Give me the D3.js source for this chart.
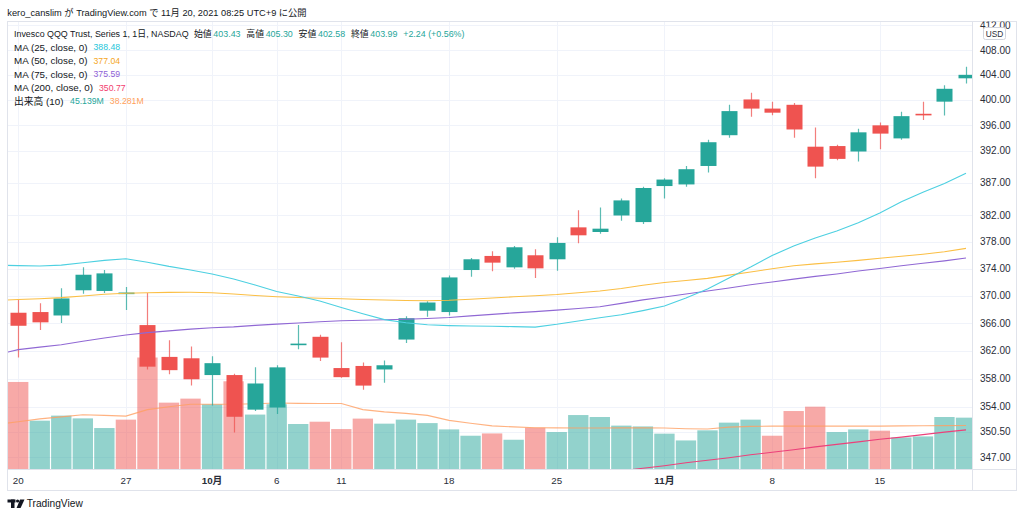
<!DOCTYPE html>
<html><head><meta charset="utf-8">
<script src="https://cdn.jsdelivr.net/npm/d3@7"></script>
<style>
html,body{margin:0;padding:0;background:#fff;}
svg{display:block;font-family:"Liberation Sans",Arial,"Noto Sans CJK JP",sans-serif;}
</style></head><body>
<svg id="c" width="1024" height="518"></svg>
<script>
// ---------------- data ----------------
const dates = ["2021-09-20","2021-09-21","2021-09-22","2021-09-23","2021-09-24",
"2021-09-27","2021-09-28","2021-09-29","2021-09-30","2021-10-01",
"2021-10-04","2021-10-05","2021-10-06","2021-10-07","2021-10-08",
"2021-10-11","2021-10-12","2021-10-13","2021-10-14","2021-10-15",
"2021-10-18","2021-10-19","2021-10-20","2021-10-21","2021-10-22",
"2021-10-25","2021-10-26","2021-10-27","2021-10-28","2021-10-29",
"2021-11-01","2021-11-02","2021-11-03","2021-11-04","2021-11-05",
"2021-11-08","2021-11-09","2021-11-10","2021-11-11","2021-11-12",
"2021-11-15","2021-11-16","2021-11-17","2021-11-18","2021-11-19"];
const open  = [367.5,367.6,367.1,370.8,370.7,370.3,365.7,361.1,360.9,358.5,358.5,353.6,353.9,362.8,364.0,359.5,359.8,359.3,363.6,367.8,367.6,373.8,375.9,374.2,376.0,375.4,380.2,379.5,382.0,381.0,386.5,386.75,389.6,394.4,400.05,398.6,399.2,392.6,392.7,391.85,395.95,393.9,397.7,399.7,403.43];
const high  = [369.4,368.9,371.1,374.2,373.8,371.3,370.4,363.5,362.6,361.2,358.7,359.6,359.9,365.7,364.3,363.2,360.3,360.6,367.0,369.2,373.0,375.6,376.6,377.4,376.9,378.7,382.8,383.2,384.6,386.4,387.7,389.6,393.7,399.2,401.1,399.7,399.5,395.6,392.9,395.4,396.4,398.1,399.7,402.3,405.30];
const low   = [361.0,365.0,366.0,370.3,370.4,367.9,359.3,358.6,357.0,354.2,350.4,353.4,353.0,362.2,360.5,358.1,356.4,357.4,363.1,366.9,367.1,372.8,373.6,374.0,372.6,373.7,377.8,379.25,381.2,380.7,384.6,386.4,388.6,394.0,397.3,397.55,394.0,387.7,390.5,390.3,392.2,393.7,396.8,397.5,402.58];
const close = [365.6,366.1,369.6,373.1,373.3,370.4,359.7,359.2,357.9,360.2,352.6,357.3,359.6,363.0,361.0,358.2,357.0,359.9,366.7,369.0,372.7,375.4,374.9,377.2,374.05,377.85,379.0,380.0,384.3,386.2,387.5,389.1,393.3,398.2,398.6,397.95,395.3,389.5,390.7,394.85,394.65,397.4,397.6,401.75,403.99];
const prevClose = 370.0; // close of the session before the first bar
const volume = [76.2,42.5,46.9,44.5,36.1,43.4,97.5,58.2,61.7,56.8,76.8,47.8,56.8,39.6,41.6,35.2,44.3,39.9,43.4,40.4,34.9,29.4,31.4,25.9,36.4,32.6,47.4,45.7,38.2,37.5,31.2,25.3,34.1,40.8,43.4,29.4,50.9,54.7,32.6,34.9,33.8,27.9,28.8,45.7,45.139];

// moving averages: first value belongs to the session before the first bar (index -1)
const ma25 = [374.53,374.46,374.39,374.53,374.89,375.24,375.49,374.96,374.34,373.81,373.22,372.47,371.58,370.62,369.96,369.21,368.28,367.36,366.50,366.03,365.74,365.62,365.56,365.52,365.47,365.41,365.81,366.30,366.77,367.21,367.81,368.48,369.66,371.0,372.62,374.24,375.96,377.39,378.58,379.66,380.9,382.39,384.09,385.56,386.88,388.48];
const ma50 = [369.29,369.44,369.56,369.72,369.96,370.22,370.36,370.44,370.49,370.50,370.44,370.25,370.04,369.85,369.73,369.63,369.56,369.45,369.36,369.30,369.26,369.33,369.48,369.66,369.84,370.0,370.18,370.44,370.70,371.07,371.55,371.96,372.25,372.56,373.04,373.51,373.99,374.44,374.72,374.96,375.24,375.55,375.85,376.16,376.53,377.04];
const ma75 = [361.42,362.15,362.51,362.85,363.35,363.82,364.27,364.61,364.86,365.11,365.31,365.44,365.66,365.84,366.01,366.18,366.33,366.40,366.47,366.55,366.65,366.80,367.04,367.26,367.48,367.66,367.88,368.12,368.38,368.87,369.39,369.81,370.25,370.70,371.14,371.62,372.03,372.45,372.85,373.22,373.66,374.03,374.43,374.82,375.17,375.59];
const maStartIndex = -1;
// MA200 only visible from bar 27 onward
const ma200 = [344.7,345.1,345.45,345.8,346.2,346.55,346.9,347.3,347.65,348.0,348.4,348.75,349.1,349.45,349.75,350.1,350.45,350.77];
const ma200StartIndex = 27;
const volMa10 = [39.3,41.5,44.1,45.8,47.6,47.1,46.5,52.1,54.6,56.8,56.8,56.8,57.2,57.9,57.6,57.5,57.4,52.1,50.2,48.9,47.1,42.8,40.2,38.0,37.1,36.4,36.2,36.1,36.1,36.2,36.4,36.1,35.5,35.2,36.9,37.5,37.8,37.8,37.8,37.8,37.8,37.8,38.0,38.1,38.2,38.281];

const priceTicks = [412,408,404,400,396,392,387,382,378,374,370,366,362,358,354,350.5,347];
const dateTickDates  = ["2021-09-20","2021-09-27","2021-10-01","2021-10-06","2021-10-11","2021-10-18","2021-10-25","2021-11-01","2021-11-08","2021-11-15"];
const dateTickLabels = ["20","27","10月","6","11","18","25","11月","8","15"];
const dateTickIsMonth = [false,false,true,false,false,false,false,true,false,false];

const headerText = "kero_canslim が TradingView.com で 11月 20, 2021 08:25 UTC+9 に公開";
const symbolText = "Invesco QQQ Trust, Series 1, 1日, NASDAQ";
const maLabels = ["MA (25, close, 0)","MA (50, close, 0)","MA (75, close, 0)","MA (200, close, 0)"];
const volLabel = "出来高 (10)";

// ---------------- layout / style ----------------
const L = 7.5, R = 972.5, T = 21.5, B = 469.5, AXB = 490.5, FR = 1016.5;
const UP = "#26a69a", DOWN = "#ef5350";
const VUP = "rgba(38,166,154,0.5)", VDOWN = "rgba(239,83,80,0.5)";
const C25 = "#4dd0e1", C50 = "#fbbf45", C75 = "#9068d4", C200 = "#ec407a", CVMA = "#ff9f62";
const GRID = "#f0f3fa", BORDER = "#e0e3eb", TXT = "#131722";

const svg = d3.select("#c");
const x = d3.scaleLinear().domain([0, dates.length - 1]).range([18.2, 966]);
const y = d3.scaleLog().domain([347, 408]).range([457, 50]);
const yv = d3.scaleLinear().domain([0, d3.max(volume)]).range([B, B - 0.25 * (B - T)]);
const step = x(1) - x(0);

const defs = svg.append("defs");
defs.append("clipPath").attr("id", "pane").append("rect")
  .attr("x", L).attr("y", T).attr("width", R - L).attr("height", B - T);
defs.append("clipPath").attr("id", "axis").append("rect")
  .attr("x", R).attr("y", T).attr("width", FR - R).attr("height", B - T);

// header
svg.append("text").attr("x", 7.3).attr("y", 16).attr("font-size", 9.25)
  .attr("fill", TXT).text(headerText);

const pane = svg.append("g").attr("clip-path", "url(#pane)");

// grid
pane.selectAll("line.hg").data(priceTicks).join("line")
  .attr("x1", L).attr("x2", R)
  .attr("y1", d => Math.round(y(d)) + 0.5).attr("y2", d => Math.round(y(d)) + 0.5)
  .attr("stroke", GRID).attr("stroke-width", 1);
pane.selectAll("line.vg").data(dateTickDates).join("line")
  .attr("x1", d => Math.round(x(dates.indexOf(d))) + 0.5)
  .attr("x2", d => Math.round(x(dates.indexOf(d))) + 0.5)
  .attr("y1", T).attr("y2", B)
  .attr("stroke", GRID).attr("stroke-width", 1);

// volume bars
const vw = step - 1.2;
pane.append("g").selectAll("rect").data(volume).join("rect")
  .attr("x", (d, i) => x(i) - vw / 2)
  .attr("width", vw)
  .attr("y", d => yv(d))
  .attr("height", d => B - yv(d))
  .attr("fill", (d, i) => close[i] >= (i === 0 ? prevClose : close[i - 1]) ? VUP : VDOWN);

// volume MA
const lineV = d3.line().x((d, k) => x(k + maStartIndex)).y(d => yv(d));
pane.append("path").attr("d", lineV(volMa10)).attr("fill", "none")
  .attr("stroke", CVMA).attr("stroke-opacity", 0.8).attr("stroke-width", 1.1);

// candles
const bw = 16;
const cg = pane.append("g");
dates.forEach((d, i) => {
  const up = close[i] >= open[i];
  const col = up ? UP : DOWN;
  const cx = Math.round(x(i)) + 0.5;
  cg.append("line").attr("x1", cx).attr("x2", cx)
    .attr("y1", y(high[i])).attr("y2", y(low[i]))
    .attr("stroke", col).attr("stroke-opacity", 0.75).attr("stroke-width", 1.2);
  const yt = y(Math.max(open[i], close[i])), yb = y(Math.min(open[i], close[i]));
  const h = Math.max(1.6, yb - yt);
  cg.append("rect").attr("x", cx - bw / 2).attr("width", bw)
    .attr("y", (yt + yb) / 2 - h / 2).attr("height", h)
    .attr("fill", col);
});

// price MAs
const lineP = off => d3.line().x((d, k) => x(k + off)).y(d => y(d));
[[ma75, C75], [ma50, C50], [ma25, C25]].forEach(([arr, col]) => {
  pane.append("path").attr("d", lineP(maStartIndex)(arr)).attr("fill", "none")
    .attr("stroke", col).attr("stroke-width", 1.1);
});
pane.append("path").attr("d", lineP(ma200StartIndex)(ma200)).attr("fill", "none")
  .attr("stroke", C200).attr("stroke-width", 1.1);

// frame
svg.append("rect").attr("x", L).attr("y", T).attr("width", FR - L).attr("height", AXB - T)
  .attr("fill", "none").attr("stroke", BORDER);
svg.append("line").attr("x1", L).attr("x2", FR).attr("y1", B).attr("y2", B).attr("stroke", BORDER);
svg.append("line").attr("x1", R).attr("x2", R).attr("y1", T).attr("y2", AXB).attr("stroke", BORDER);

// price axis labels
const ax = svg.append("g").attr("clip-path", "url(#axis)");
ax.selectAll("text").data(priceTicks).join("text")
  .attr("x", 980).attr("y", d => y(d)).attr("dy", "0.35em")
  .attr("font-size", 10).attr("fill", "#2a2e39")
  .text(d => d.toFixed(2));
// USD badge
svg.append("rect").attr("x", 983.5).attr("y", 27.5).attr("width", 22).attr("height", 12).attr("rx", 2)
  .attr("fill", "#fff").attr("stroke", "#d1d4dc");
svg.append("text").attr("x", 994.5).attr("y", 33.7).attr("dy", "0.35em").attr("text-anchor", "middle")
  .attr("font-size", 8.3).attr("fill", "#2a2e39").text("USD");

// date axis labels
svg.selectAll("text.dl").data(dateTickDates).join("text")
  .attr("x", (d, k) => x(dates.indexOf(d)))
  .attr("y", 480.5).attr("dy", "0.35em").attr("text-anchor", "middle")
  .attr("font-size", 9.8).attr("fill", "#2a2e39")
  .attr("font-weight", (d, k) => dateTickIsMonth[k] ? "bold" : "normal")
  .text((d, k) => dateTickLabels[k]);

// legend
const fmt = d3.format(".2f");
function flow(yy, parts) {
  let cx = 14;
  parts.forEach(p => {
    const t = svg.append("text").attr("x", cx).attr("y", yy).attr("dy", "0.35em")
      .attr("font-size", p.s).attr("fill", p.c || TXT).text(p.t);
    cx += t.node().getComputedTextLength() + (p.g === undefined ? 5.8 : p.g);
  });
}
const last = close.length - 1;
const chg = close[last] - close[last - 1];
const pct = chg / close[last - 1] * 100;
const S1 = 8.9, SL = 9.8, SV = 8.7;
flow(33.7, [
  {t: symbolText, s: S1, g: 5.4},
  {t: "始値", s: S1, g: 1.6}, {t: fmt(open[last]), c: UP, s: S1},
  {t: "高値", s: S1, g: 1.6}, {t: fmt(high[last]), c: UP, s: S1},
  {t: "安値", s: S1, g: 1.6}, {t: fmt(low[last]), c: UP, s: S1},
  {t: "終値", s: S1, g: 1.6}, {t: fmt(close[last]), c: UP, s: S1},
  {t: (chg >= 0 ? "+" : "") + fmt(chg) + " (" + (pct >= 0 ? "+" : "") + fmt(pct) + "%)", c: UP, s: S1}
]);
const maVals = [ma25, ma50, ma75, ma200];
const maCols = ["#26c6da", "#f5a623", "#8e5fd6", "#f23d6d"];
maLabels.forEach((lab, k) => {
  flow(47.2 + k * 13.5, [{t: lab, s: SL, g: 6}, {t: fmt(maVals[k][maVals[k].length - 1]), c: maCols[k], s: SV}]);
});
flow(101.3, [{t: volLabel, s: SL, g: 6.5},
  {t: volume[last].toFixed(3) + "M", c: UP, s: SV, g: 6},
  {t: volMa10[volMa10.length - 1].toFixed(3) + "M", c: "#ff9f5a", s: SV}]);

// TradingView logo
const lg = svg.append("g").attr("fill", "#131722");
lg.append("rect").attr("x", 7.5).attr("y", 499.5).attr("width", 8).attr("height", 3);
lg.append("rect").attr("x", 11).attr("y", 499.5).attr("width", 3.5).attr("height", 8.5);
lg.append("circle").attr("cx", 17.6).attr("cy", 501).attr("r", 1.6);
lg.append("path").attr("d", "M20,499.5 L24.5,499.5 L20.6,508 L16.6,508 Z");
svg.append("text").attr("x", 26.7).attr("y", 503.5).attr("dy", "0.35em")
  .attr("font-size", 10.2).attr("fill", "#131722").text("TradingView");
</script>
</body></html>
